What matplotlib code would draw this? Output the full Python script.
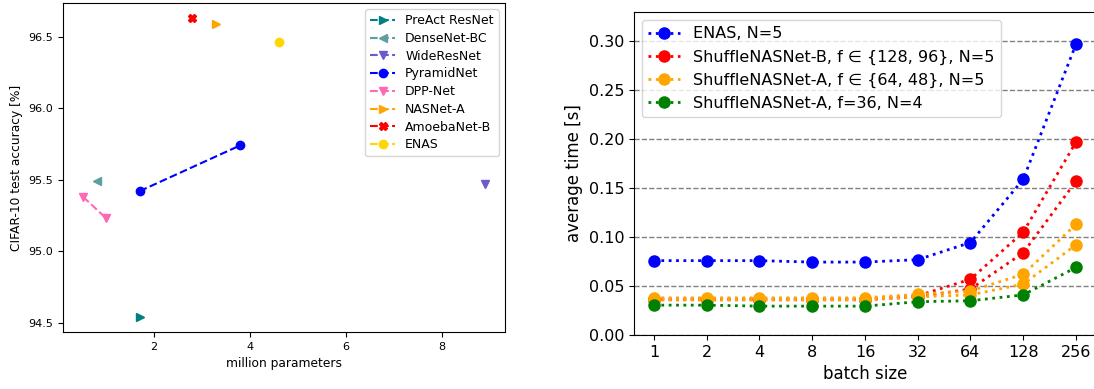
import matplotlib
matplotlib.use("Agg")
import matplotlib.pyplot as plt

# ---- accuracy vs. model size ----
model_names = ["PreAct ResNet", "DenseNet-BC", "WideResNet", "PyramidNet",
               "DPP-Net", "NASNet-A", "AmoebaNet-B", "ENAS"]
model_params = [[1.7], [0.8], [8.9], [1.7, 3.8], [0.52, 1.0], [3.3], [2.8], [4.6]]
model_acc = [[94.54], [95.49], [95.47], [95.42, 95.74], [95.38, 95.23],
             [96.59], [96.63], [96.46]]
model_colors = ["teal", "cadetblue", "slateblue", "blue", "hotpink",
                "orange", "red", "gold"]
model_markers = [">", "<", "v", "o", "v", ">", "X", "o"]

# ---- inference time vs. batch size ----
batch_sizes = ["1", "2", "4", "8", "16", "32", "64", "128", "256"]
enas_time = [0.076, 0.076, 0.076, 0.0745, 0.0745, 0.077, 0.0945, 0.159, 0.297]
nasb_128_time = [0.037, 0.037, 0.037, 0.037, 0.037, 0.040, 0.057, 0.105, 0.197]
nasb_96_time = [0.036, 0.036, 0.036, 0.036, 0.036, 0.039, 0.047, 0.084, 0.157]
nasa_64_time = [0.038, 0.038, 0.038, 0.038, 0.038, 0.0415, 0.045, 0.062, 0.113]
nasa_48_time = [0.036, 0.036, 0.036, 0.036, 0.036, 0.039, 0.041, 0.052, 0.092]
nasa_36_time = [0.0305, 0.0305, 0.0295, 0.0295, 0.0295, 0.034, 0.035, 0.041, 0.069]

fig = plt.figure(figsize=(10.94, 3.89), dpi=100)

ax1 = fig.add_axes([0.0576, 0.1465, 0.404, 0.8458])
for name, xs, ys, c, m in zip(model_names, model_params, model_acc,
                              model_colors, model_markers):
    ax1.plot(xs, ys, linestyle="--", color=c, marker=m, markersize=6, label=name)
ax1.set_xticks([2, 4, 6, 8])
ax1.set_yticks([94.5, 95.0, 95.5, 96.0, 96.5])
ax1.tick_params(labelsize=8)
ax1.set_xlabel("million parameters", fontsize=8.8)
ax1.set_ylabel("CIFAR-10 test accuracy [%]", fontsize=8.8)
ax1.legend(loc="upper right", fontsize=9, labelspacing=0.38)

ax2 = fig.add_axes([0.5795, 0.1388, 0.4223, 0.8302])
xpos = range(len(batch_sizes))
ms = 8
ax2.plot(xpos, enas_time, ":", color="blue", marker="o", markersize=ms,
         linewidth=2, label="ENAS, N=5")
ax2.plot(xpos, nasb_128_time, ":", color="red", marker="o", markersize=ms,
         linewidth=2, label="ShuffleNASNet-B, f \u2208 {128, 96}, N=5")
ax2.plot(xpos, nasb_96_time, ":", color="red", marker="o", markersize=ms,
         linewidth=2)
ax2.plot(xpos, nasa_64_time, ":", color="orange", marker="o", markersize=ms,
         linewidth=2, label="ShuffleNASNet-A, f \u2208 {64, 48}, N=5")
ax2.plot(xpos, nasa_48_time, ":", color="orange", marker="o", markersize=ms,
         linewidth=2)
ax2.plot(xpos, nasa_36_time, ":", color="green", marker="o", markersize=ms,
         linewidth=2, label="ShuffleNASNet-A, f=36, N=4")
ax2.set_xticks(list(xpos))
ax2.set_xticklabels(batch_sizes)
ax2.set_xlim(-0.38, 8.38)
ax2.set_ylim(0, 0.33)
ax2.set_yticks([0.0, 0.05, 0.10, 0.15, 0.20, 0.25, 0.30])
ax2.yaxis.grid(True, linestyle="--", color="gray", linewidth=1)
ax2.set_axisbelow(True)
ax2.tick_params(labelsize=11.5)
ax2.set_xlabel("batch size", fontsize=12, labelpad=4)
ax2.set_ylabel("average time [s]", fontsize=12)
ax2.legend(loc="upper left", fontsize=11.5)

fig.savefig("out.png", dpi=100)
